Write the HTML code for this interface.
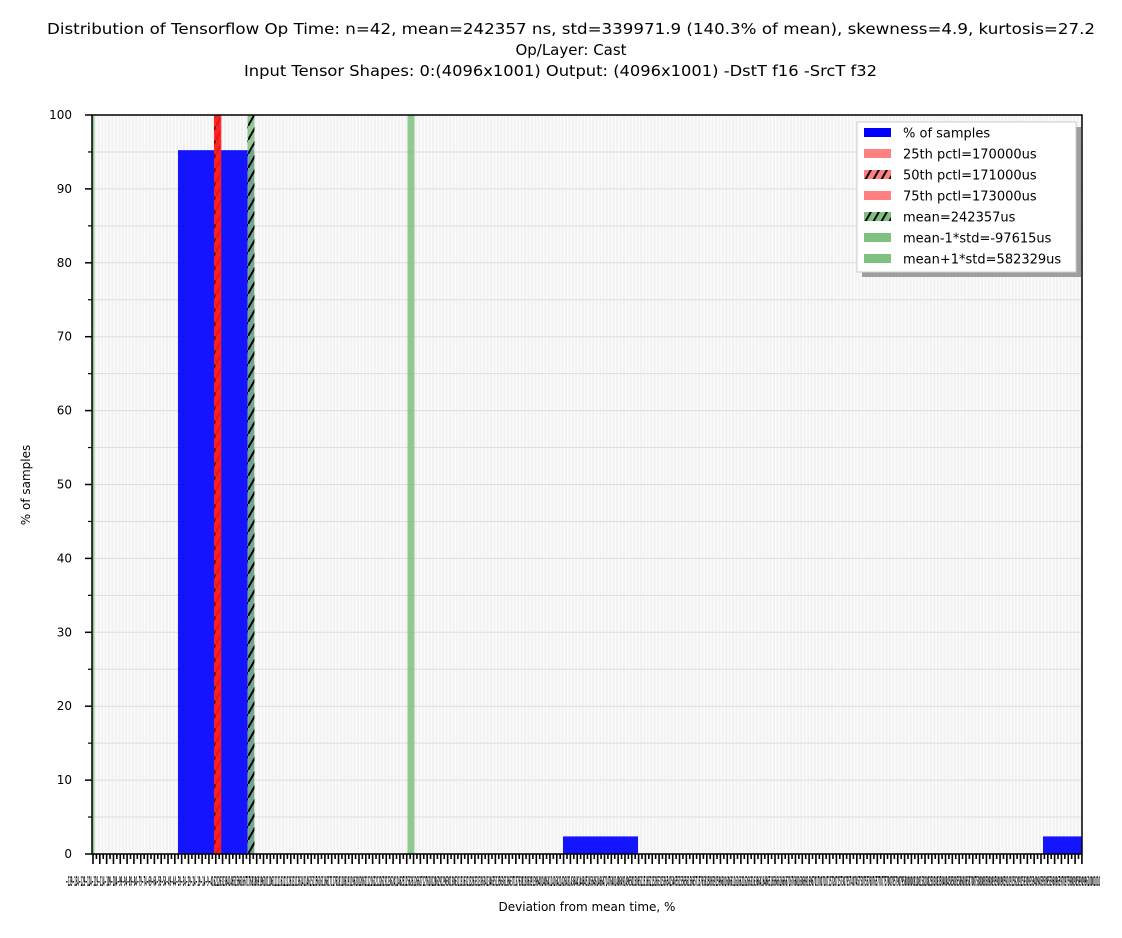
<!DOCTYPE html>
<html><head><meta charset="utf-8"><style>
body{margin:0;background:#fff;font-family:"Liberation Sans","DejaVu Sans",sans-serif}
</style></head><body>
<svg id="chart" width="1122" height="933" xmlns="http://www.w3.org/2000/svg" font-family="DejaVu Sans, Liberation Sans, sans-serif">
<g font-size="15" text-anchor="middle" fill="#000">
<text x="571" y="34" textLength="1048" lengthAdjust="spacingAndGlyphs">Distribution of Tensorflow Op Time: n=42, mean=242357 ns, std=339971.9 (140.3% of mean), skewness=4.9, kurtosis=27.2</text>
<text x="571" y="55">Op/Layer: Cast</text>
<text x="560.5" y="76" textLength="633" lengthAdjust="spacingAndGlyphs">Input Tensor Shapes:  0:(4096x1001) Output: (4096x1001) -DstT f16 -SrcT f32</text>
</g>
<defs>
<pattern id="hatch" width="8" height="14" patternUnits="userSpaceOnUse"><line x1="0" y1="14" x2="8" y2="0" stroke="#000" stroke-width="2"/></pattern>
<clipPath id="plotclip"><rect x="92" y="115" width="990" height="739"/></clipPath>
</defs>
<rect x="92" y="115" width="990" height="739" fill="#f2f2f2"/>
<g id="grid" clip-path="url(#plotclip)"></g>
<g id="bars" clip-path="url(#plotclip)"></g>
<g id="vlines" clip-path="url(#plotclip)"></g>
<rect x="92" y="115" width="990" height="739" fill="none" stroke="#000" stroke-width="1.5"/>
<g id="yaxis" font-size="12"></g>
<g id="xaxis"></g>
<text transform="translate(30,485) rotate(-90)" font-size="12" text-anchor="middle">% of samples</text>
<text x="587" y="911" font-size="12" text-anchor="middle">Deviation from mean time, %</text>
<g font-size="13">
<rect x="862" y="127" width="219" height="150" fill="#888" opacity="0.8"/>
<rect x="857" y="122" width="219" height="150" fill="#fff" stroke="#ccc"/>
<g id="legend-items"></g>
</g>
</svg>
<script>
const binStarts=[-64,273.6,694.5];
const binEnds=[2.6,339.4,740];
const binValues=[95.24,2.38,2.38];
const lineLabels=["25th pctl=170000us","50th pctl=171000us","75th pctl=173000us","mean=242357us","mean-1*std=-97615us","mean+1*std=582329us"];
const lineValues=[-29.86,-29.44,-28.62,0,-140.3,140.3];
const lineColors=["#ff8080","#ff8080","#ff8080","#80c080","#80c080","#80c080"];
const lineHatch=[false,true,false,true,false,false];
const yTicks=[0,10,20,30,40,50,60,70,80,90,100];
const xMin=-139.4,xMax=728.7,yMax=100;
const X=p=>92+(p-xMin)/(xMax-xMin)*990;
const Y=v=>854-v/yMax*739;
const NS="http://www.w3.org/2000/svg";
function mk(t,a,parent){const e=document.createElementNS(NS,t);for(const k in a)e.setAttribute(k,a[k]);parent.appendChild(e);return e;}
const grid=document.getElementById('grid');
for(let x=92;x<1082;x+=3.41){const l=mk('line',{x1:x+1.7,y1:115,x2:x+1.7,y2:854,stroke:'#fbfbfb','stroke-width':1.4},grid);

}
for(let v=5;v<100;v+=5){const l=mk('line',{x1:92,y1:Y(v),x2:1082,y2:Y(v),stroke:'#ddd','stroke-width':1},grid);

}
const bars=document.getElementById('bars');
binValues.forEach((v,i)=>{const r=mk('rect',{x:X(binStarts[i]),y:Y(v),width:X(binEnds[i])-X(binStarts[i]),height:Y(0)-Y(v),fill:'#0000ff',opacity:0.92},bars);

});
const vl=document.getElementById('vlines');
lineValues.forEach((v,i)=>{const w=i<3?6:7;const r=mk('rect',{x:X(v)-w/2,y:115,width:w,height:739,fill:i<3?'#ff2020':lineColors[i],opacity:0.85},vl);


if(lineHatch[i]){const h=mk('rect',{x:X(v)-w/2,y:115,width:w,height:739,fill:'url(#hatch)'},vl);

}});
const ya=document.getElementById('yaxis');
yTicks.forEach(t=>{const l=mk('line',{x1:85,y1:Y(t),x2:92,y2:Y(t),stroke:'#000','stroke-width':1.5},ya);


const tx=mk('text',{x:72,y:Y(t)+4,'text-anchor':'end'},ya);tx.textContent=t;

});
for(let t=5;t<100;t+=10){const l=mk('line',{x1:88,y1:Y(t),x2:92,y2:Y(t),stroke:'#000','stroke-width':1.2},ya);

}
const xa=document.getElementById('xaxis');
let k=0;
for(let x=93;x<=1083;x+=3.41){const l=mk('line',{x1:x,y1:854,x2:x,y2:k%2?859:864,stroke:'#000','stroke-width':1.6},xa);

k++;}
const lbl=mk('text',{x:66,y:886,'font-size':13,'font-weight':'bold',textLength:1034,lengthAdjust:'spacingAndGlyphs'},xa);
lbl.textContent="−139−134−129−124−119−114−109−104−99−94−89−84−79−74−69−64−59−54−49−44−39−34−29−24−19−14−9−4162126313641465156616671768186919610110611111612112613113614114615115616116617117618118619119620120621121622122623123624124625125626126627127628128629129630130631131632132633133634134635135636136637137638138639139640140641141642142643143644144645145646146647147648148649149650150651151652152653153654154655155656156657157658158659159660160661161662162663163664164665165666166667167668168669169670170071071572072573073574074575075576076577077578078579079580080081081582082583083584084585085586086587087588088589089590090591091592092593093594094595095596096597097598098599099610001010";


const li=document.getElementById('legend-items');
const allLabels=["% of samples"].concat(lineLabels);
const allColors=["#0000ff"].concat(lineColors);
const allHatch=[false].concat(lineHatch);
allLabels.forEach((s,i)=>{const y=133+i*21;
const sw=mk('rect',{x:864,y:y-5,width:27,height:9,fill:allColors[i]},li);


if(allHatch[i]){const h=mk('rect',{x:864,y:y-5,width:27,height:9,fill:'url(#hatch)'},li);

}
const t=mk('text',{x:903,y:y+4.5},li);t.textContent=s;

});
</script>
</body></html>
